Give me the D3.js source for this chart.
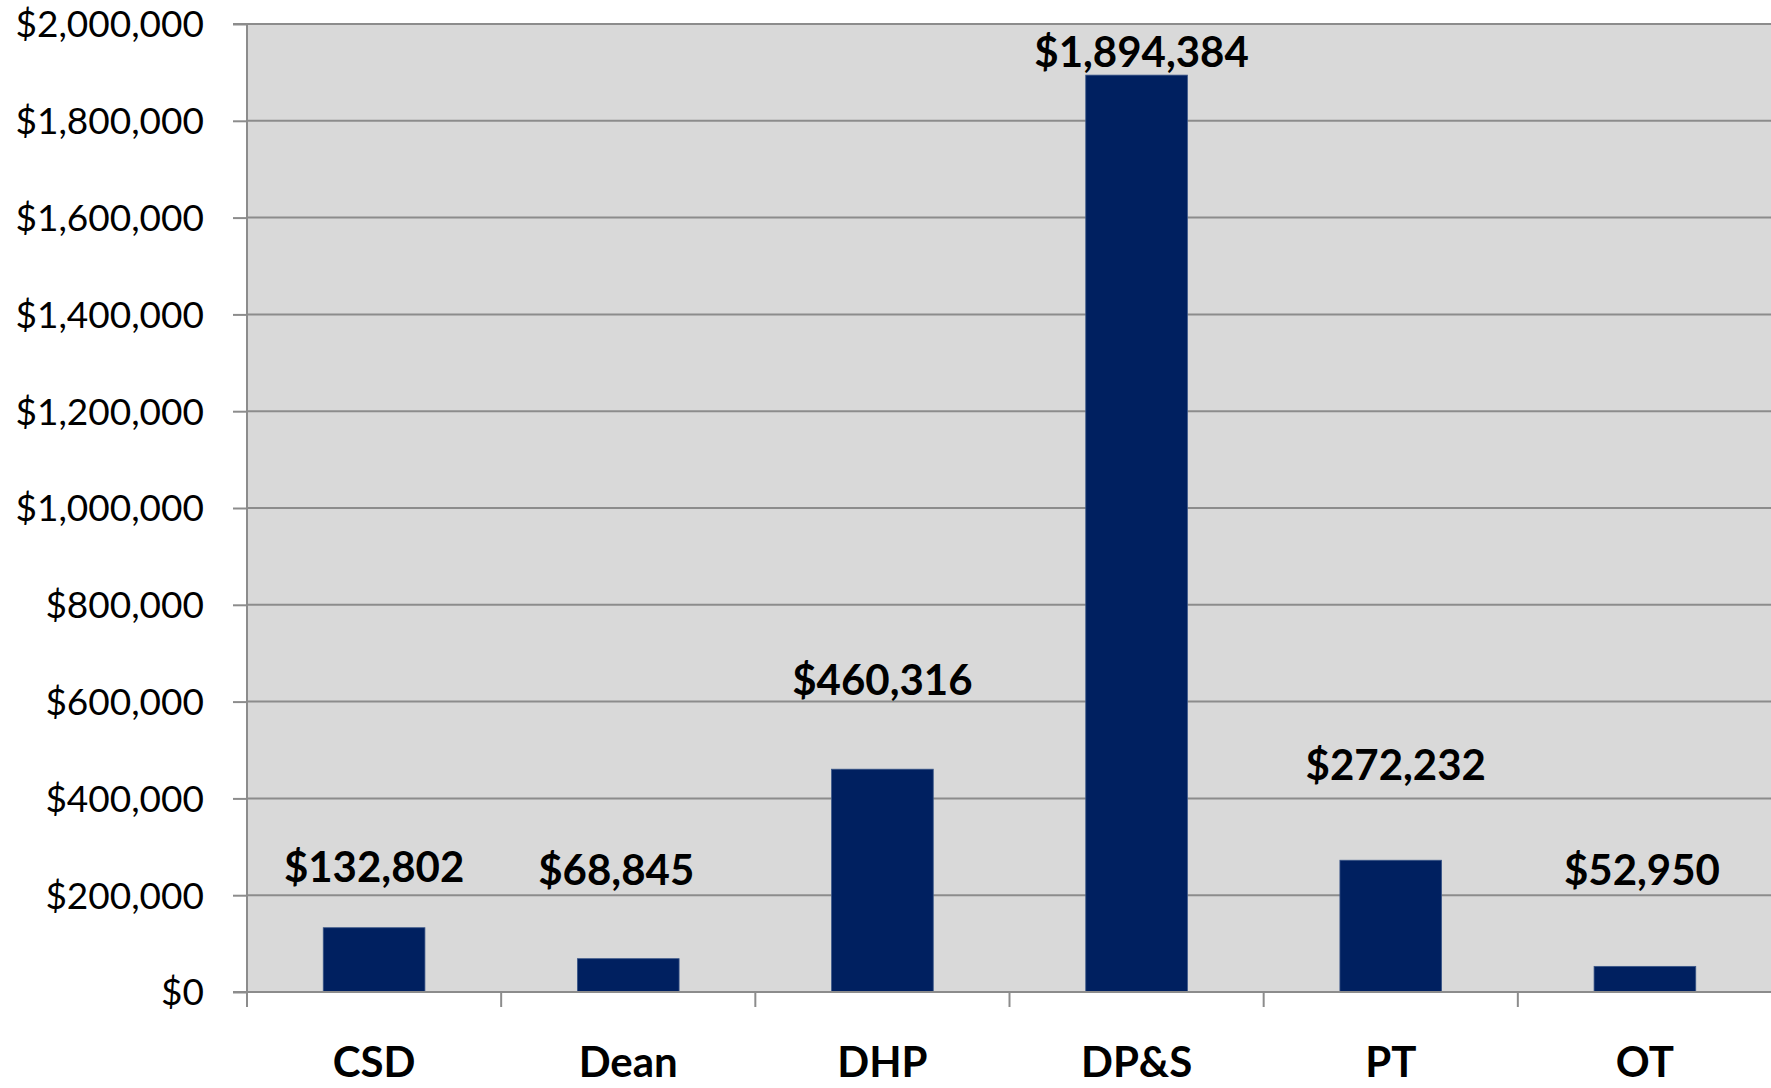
<!DOCTYPE html>
<html>
<head>
<meta charset="utf-8">
<script src="https://cdn.jsdelivr.net/npm/d3@7"></script>
<style>
  html, body { margin: 0; padding: 0; background: #ffffff; overflow: hidden; }
  svg { display: block; }
</style>
</head>
<body>
<svg id="chart" width="1771" height="1088"></svg>
<script>
// ---- data ----
const categories = ["CSD", "Dean", "DHP", "DP&S", "PT", "OT"];
const values = [132802, 68845, 460316, 1894384, 272232, 52950];
const valueLabels = ["$132,802", "$68,845", "$460,316", "$1,894,384", "$272,232", "$52,950"];
const yTickValues = [0, 200000, 400000, 600000, 800000, 1000000, 1200000, 1400000, 1600000, 1800000, 2000000];

// ---- layout (manual label placement, px) ----
const labelLift = [46, 74, 74, 8, 80, 81];
const labelShift = [0, -12, 0, 5, 5, -3];

(function () {
  const plotLeft = 247, plotTop = 24, plotBottom = 992;
  const stepW = 1525 / 6;
  const plotRight = plotLeft + stepW * 6;

  const svg = d3.select("#chart");
  const FONT = "Lato, 'Open Sans', sans-serif";

  const x = d3.scaleBand().domain(categories).range([plotLeft, plotRight])
    .paddingInner(0.6).paddingOuter(0.3);
  const y = d3.scaleLinear().domain([0, 2000000]).range([plotBottom, plotTop]);

  // plot background
  svg.append("rect").attr("x", plotLeft).attr("y", plotTop)
    .attr("width", plotRight - plotLeft).attr("height", plotBottom - plotTop)
    .attr("fill", "#d9d9d9");

  // gridlines
  svg.append("g").selectAll("line").data(yTickValues.filter(v => v > 0)).join("line")
    .attr("x1", plotLeft).attr("x2", plotRight)
    .attr("y1", d => y(d)).attr("y2", d => y(d))
    .attr("stroke", "#8c8c8c").attr("stroke-width", 2);

  // bars
  svg.append("g").selectAll("rect").data(categories).join("rect")
    .attr("x", d => x(d))
    .attr("y", (d, i) => y(values[i]))
    .attr("width", x.bandwidth())
    .attr("height", (d, i) => plotBottom - y(values[i]))
    .attr("fill", "#002060")
    .attr("stroke", "#3a5688").attr("stroke-width", 0.8);

  // y axis
  const fmt = d3.format(",");
  const yAxis = d3.axisLeft(y).tickValues(yTickValues)
    .tickFormat(d => "$" + fmt(d)).tickSize(14).tickPadding(29);
  const gy = svg.append("g").attr("transform", `translate(${plotLeft},0)`).call(yAxis);
  gy.select(".domain").attr("stroke", "#8c8c8c").attr("stroke-width", 2)
    .attr("d", `M-14,${plotTop}H0V${plotBottom + 15}`);
  gy.selectAll(".tick line").attr("stroke", "#8c8c8c").attr("stroke-width", 2);
  gy.selectAll(".tick text").attr("font-family", FONT).attr("font-size", 37)
    .attr("fill", "#000").attr("dy", "0.35em");

  // x axis line and ticks
  svg.append("line").attr("x1", plotLeft - 14).attr("x2", plotRight)
    .attr("y1", plotBottom).attr("y2", plotBottom)
    .attr("stroke", "#8c8c8c").attr("stroke-width", 2);
  const boundaries = categories.map(c => x(c) - x.step() * x.paddingOuter()).concat([plotRight]);
  svg.append("g").selectAll("line").data(boundaries).join("line")
    .attr("x1", d => d).attr("x2", d => d)
    .attr("y1", plotBottom).attr("y2", plotBottom + 15)
    .attr("stroke", "#8c8c8c").attr("stroke-width", 2);

  // category labels
  svg.append("g").selectAll("text").data(categories).join("text")
    .attr("x", d => x(d) + x.bandwidth() / 2)
    .attr("y", 1077)
    .attr("text-anchor", "middle")
    .attr("font-family", FONT).attr("font-weight", "bold").attr("font-size", 42)
    .attr("fill", "#000")
    .text(d => d);

  // value labels
  svg.append("g").selectAll("text").data(categories).join("text")
    .attr("x", (d, i) => x(d) + x.bandwidth() / 2 + labelShift[i])
    .attr("y", (d, i) => y(values[i]) - labelLift[i])
    .attr("text-anchor", "middle")
    .attr("font-family", FONT).attr("font-weight", "bold").attr("font-size", 42)
    .attr("fill", "#000")
    .text((d, i) => valueLabels[i]);
})();
</script>
</body>
</html>
